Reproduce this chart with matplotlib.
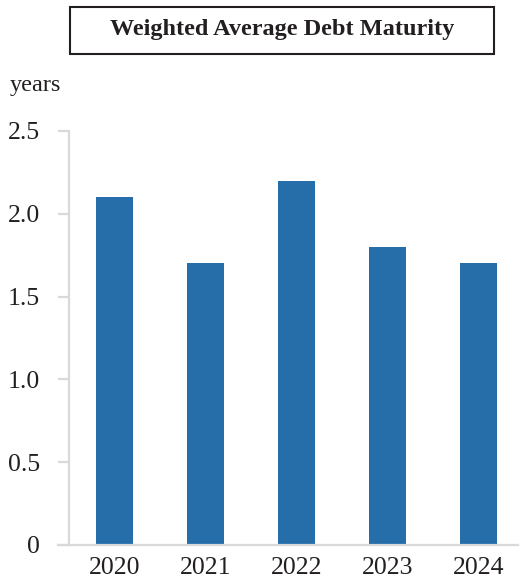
import matplotlib.pyplot as plt
from matplotlib.patches import Rectangle

years = ['2020', '2021', '2022', '2023', '2024']
maturity = [2.1, 1.7, 2.2, 1.8, 1.7]
yticks = [0, 0.5, 1.0, 1.5, 2.0, 2.5]
ytick_labels = ['0', '0.5', '1.0', '1.5', '2.0', '2.5']

plt.rcParams['font.family'] = ['Liberation Serif', 'DejaVu Serif']

fig = plt.figure(figsize=(5.2, 5.82), dpi=100)
ax = fig.add_axes([0.1327, 0.0636, 0.8633, 0.7114])

x = range(len(years))
ax.bar(x, maturity, width=0.41, color='#256eaa', zorder=2)

ax.set_xlim(-0.5, 4.43)
ax.set_ylim(0, 2.5)
ax.set_xticks(list(x))
ax.set_xticklabels(years, fontsize=18.5, color='#231f20')
ax.set_yticks(yticks)
ax.set_yticklabels(ytick_labels, fontsize=18.5, color='#231f20')

grey = '#d9d9d9'
for s in ['top', 'right']:
    ax.spines[s].set_visible(False)
for s in ['left', 'bottom']:
    ax.spines[s].set_color(grey)
    ax.spines[s].set_linewidth(1.6)
ax.tick_params(axis='y', length=8, width=1.6, color=grey, pad=13)
ax.tick_params(axis='x', length=0, pad=9)

# bottom spine extends a bit left of the y axis
ax.plot([-0.5 - 11 / 91.0, -0.5], [0, 0], color=grey, lw=1.6, clip_on=False)

fig.text(10 / 520, 1 - 86 / 582, 'years', fontsize=17.5, color='#231f20', va='center', ha='left')

# title box
fig.patches.append(Rectangle((70 / 520, 1 - 54 / 582), 424 / 520, 47 / 582,
                             transform=fig.transFigure, fill=False,
                             edgecolor='#231f20', lw=1.5))
fig.text(282 / 520, 1 - 30 / 582, 'Weighted Average Debt Maturity', fontsize=17.5,
         fontweight='bold', color='#231f20', ha='center', va='center')

fig.savefig('out.png', dpi=100)
